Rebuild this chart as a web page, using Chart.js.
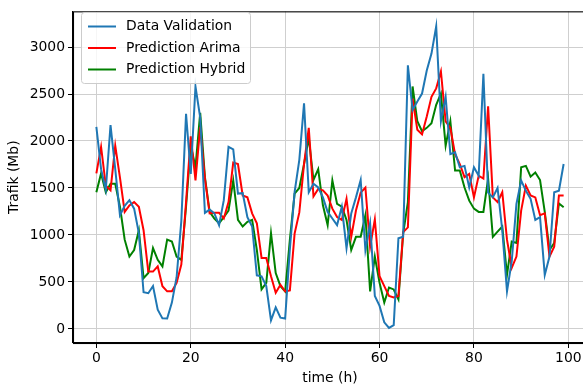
<!DOCTYPE html>
<html>
<head>
<meta charset="utf-8">
<script src="https://cdn.jsdelivr.net/npm/chart.js@4"></script>
<style>
  html, body { margin: 0; padding: 0; background: #fff; overflow: hidden; }
  #wrap { width: 590px; height: 387px; }
</style>
</head>
<body>
<div id="wrap"><canvas id="trafik"></canvas></div>
<script>
const hours = Array.from({ length: 100 }, (_, i) => i);

const dataValidation = [
  2150, 1700, 1480, 2170, 1700, 1210, 1310, 1370, 1280, 1020,
  390, 380, 456, 204, 112, 110, 280, 550, 1150, 2290,
  1650, 2580, 2250, 1235, 1270, 1230, 1105, 1370, 1937, 1910,
  1440, 1445, 1190, 1090, 570, 560, 455, 90, 230, 120,
  110, 850, 1455, 1800, 2400, 1455, 1545, 1505, 1400, 1245,
  1175, 1105, 1300, 860, 1230, 1400, 1585, 840, 1125, 350,
  245, 70, 10, 40, 965, 980, 2805, 2330, 2420, 2505,
  2750, 2930, 3220, 2210, 2470, 1860, 1880, 1720, 1735, 1505,
  1720, 1630, 2715, 1450, 1400, 1500, 1050, 400, 720, 1330,
  1580, 1470, 1385, 1160, 1190, 575, 770, 1455, 1470, 1755
];

const predArima = [
  1655, 1937, 1525, 1475, 1950, 1610, 1245, 1315, 1350, 1300,
  1050, 610, 610, 665, 455, 400, 400, 490, 685, 1350,
  2050, 1580, 2150, 1600, 1230, 1235, 1235, 1175, 1350, 1770,
  1755, 1420, 1400, 1230, 1125, 755, 755, 560, 385, 470,
  400, 410, 1015, 1240, 1755, 2140, 1410, 1490, 1475, 1420,
  1280, 1190, 1160, 1385, 980, 1260, 1450, 1505, 875, 1165,
  560, 455, 350, 335, 350, 1030, 1080, 2450, 2120, 2070,
  2260, 2470, 2560, 2740, 2210, 2140, 1860, 1755, 1615, 1650,
  1400, 1630, 1600, 2370, 1400, 1350, 1455, 950, 650, 770,
  1260, 1525, 1420, 1400, 1210, 1230, 770, 875, 1420, 1420
];

const predHybrid = [
  1455, 1655, 1455, 1545, 1545, 1300, 950, 770, 840, 1050,
  540, 595, 860, 735, 665, 950, 930, 770, 735, 1300,
  1950, 1720, 2300, 1615, 1245, 1175, 1125, 1190, 1260, 1580,
  1160, 1090, 1140, 1160, 840, 420, 490, 1020, 595, 455,
  400, 950, 1440, 1500, 1755, 2035, 1585, 1700, 1315, 1105,
  1580, 1330, 1300, 1160, 840, 980, 980, 1210, 400, 770,
  490, 280, 440, 420, 315, 1015, 1350, 2580, 2210, 2105,
  2140, 2190, 2385, 2505, 1950, 2210, 1685, 1685, 1505, 1365,
  1280, 1245, 1245, 1600, 980, 1035, 1090, 575, 930, 915,
  1720, 1735, 1620, 1665, 1585, 1245, 840, 915, 1335, 1295
];

const xTicks = [0, 20, 40, 60, 80, 100];
const yTicks = [0, 500, 1000, 1500, 2000, 2500, 3000];

Chart.defaults.font.family = "'DejaVu Sans', sans-serif";
Chart.defaults.font.size = 13.9;
Chart.defaults.color = '#000';

function toPoints(values) {
  return values.map((v, i) => ({ x: hours[i], y: v }));
}

// frame round the plot + legend box inside the axes (upper left)
const framePlugin = {
  id: 'frame',
  afterDatasetsDraw(chart) {
    const { ctx, chartArea: a } = chart;
    ctx.save();
    ctx.strokeStyle = '#000';
    ctx.lineWidth = 1.1;
    ctx.strokeRect(a.left + 0.5, a.top + 0.5, a.right - a.left, a.bottom - a.top);

    const bx = 81, by = 12, bw = 169, bh = 71;
    ctx.beginPath();
    ctx.roundRect(bx + 0.5, by + 0.5, bw, bh, 3);
    ctx.fillStyle = 'rgba(255,255,255,0.8)';
    ctx.fill();
    ctx.strokeStyle = '#cccccc';
    ctx.lineWidth = 1;
    ctx.stroke();

    ctx.font = "13.9px 'DejaVu Sans', sans-serif";
    ctx.textBaseline = 'middle';
    chart.data.datasets.forEach((ds, k) => {
      const y = by + 14.5 + k * 21.5;
      ctx.beginPath();
      ctx.moveTo(bx + 7, y);
      ctx.lineTo(bx + 35, y);
      ctx.strokeStyle = ds.borderColor;
      ctx.lineWidth = 2;
      ctx.stroke();
      ctx.fillStyle = '#000';
      ctx.fillText(ds.label, bx + 45, y);
    });
    ctx.restore();
  }
};

new Chart(document.getElementById('trafik'), {
  type: 'line',
  data: {
    datasets: [{
      label: 'Data Validation',
      data: toPoints(dataValidation),
      borderColor: '#1f77b4'
    }, {
      label: 'Prediction Arima',
      data: toPoints(predArima),
      borderColor: '#ff0000'
    }, {
      label: 'Prediction Hybrid',
      data: toPoints(predHybrid),
      borderColor: '#008000'
    }]
  },
  options: {
    responsive: true,
    maintainAspectRatio: false,
    animation: false,
    layout: { padding: { top: 8, right: 3, left: 0, bottom: 0 } },
    elements: {
      line: { borderWidth: 2, tension: 0 },
      point: { radius: 0 }
    },
    plugins: {
      legend: { display: false },
      tooltip: { enabled: false }
    },
    scales: {
      x: {
        type: 'linear',
        min: -4.95,
        max: 103.95,
        afterBuildTicks: s => { s.ticks = xTicks.map(v => ({ value: v })); },
        afterFit: s => { s.height = 44; },
        ticks: { padding: 2, color: '#000', callback: v => String(v) },
        grid: { color: '#cfcfcf', lineWidth: 1, tickLength: 5, tickColor: '#000' },
        border: { color: '#000', width: 1.1 },
        title: { display: true, text: 'time (h)', padding: { top: 0, bottom: 0 }, color: '#000' }
      },
      y: {
        min: -150,
        max: 3380,
        afterBuildTicks: s => { s.ticks = yTicks.map(v => ({ value: v })); },
        afterFit: s => { s.width = 73; },
        ticks: { padding: 3, color: '#000', callback: v => String(v) },
        grid: { color: '#cfcfcf', lineWidth: 1, tickLength: 5, tickColor: '#000' },
        border: { color: '#000', width: 1.1 },
        title: { display: true, text: 'Trafik (Mb)', padding: { top: 6, bottom: 0 }, color: '#000' }
      }
    }
  },
  plugins: [framePlugin]
});
</script>
</body>
</html>
